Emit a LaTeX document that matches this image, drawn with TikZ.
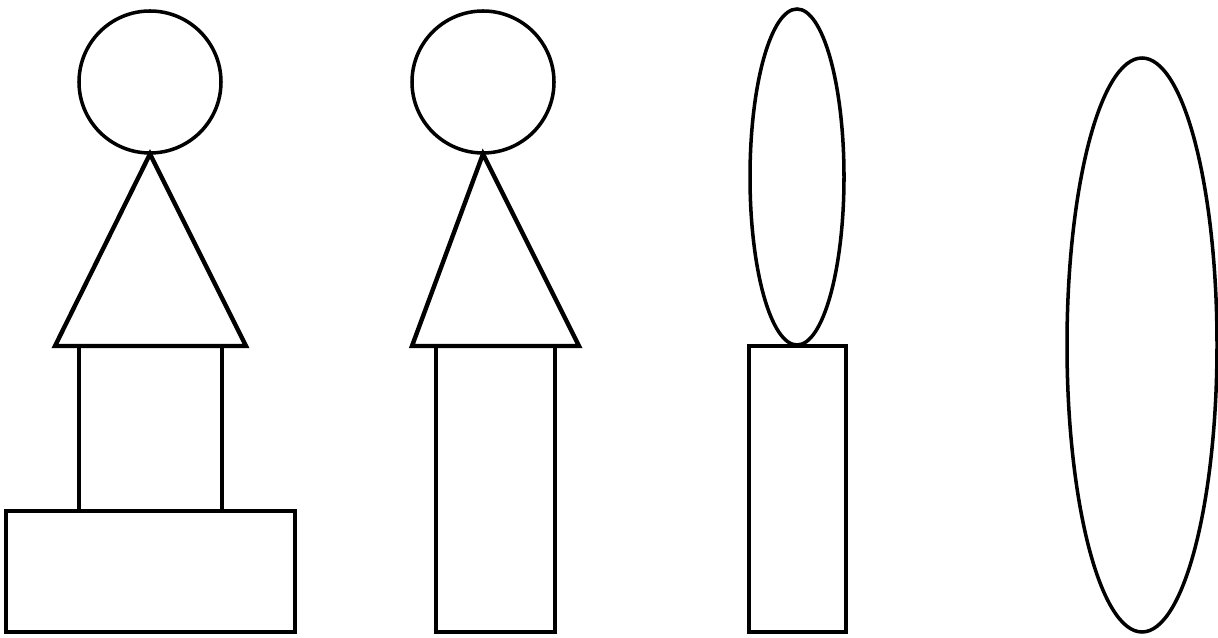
\documentclass[tikz,border=0pt]{standalone}
\usepackage{tikz}
\usetikzlibrary{calc}

\begin{document}
\begin{tikzpicture}
		\useasboundingbox (0,0) rectangle (24.36,12.76);
		\tikzset{shape line/.style={line width=2pt, line join=miter}, tri line/.style={line width=2.5pt, line join=miter}}
		
		% 第一个: 圆 + 三角形 + 两个矩形
		\coordinate (H1) at (3.00,11.12);
		\coordinate (T1) at (3.00,9.68);
		\draw[shape line] (H1) circle (1.42);
		\draw[tri line] (T1) -- (1.10,5.84) -- (4.92,5.84) -- cycle;
		\draw[shape line] (1.58,5.84) rectangle (4.44,2.54);
		\draw[tri line] (0.12,2.54) rectangle (5.90,0.12);
		
		% 第二个: 圆 + 三角形 + 长矩形
		\coordinate (H2) at (9.66,11.12);
		\coordinate (T2) at (9.66,9.68);
		\draw[shape line] (H2) circle (1.42);
		\draw[tri line] (T2) -- (8.24,5.84) -- (11.58,5.84) -- cycle;
		\draw[shape line] (8.72,5.84) rectangle (11.10,0.12);
		
		% 第三个: 椭圆 + 矩形
		\coordinate (E3) at (15.94,9.22);
		\draw[shape line] (E3) ellipse (0.94 and 3.36);
		\draw[shape line] (14.98,5.84) rectangle (16.92,0.12);
		
		% 第四个: 大椭圆
		\coordinate (E4) at (22.84,5.86);
		\draw[shape line] (E4) ellipse (1.50 and 5.74);
	\end{tikzpicture}
\end{document}
